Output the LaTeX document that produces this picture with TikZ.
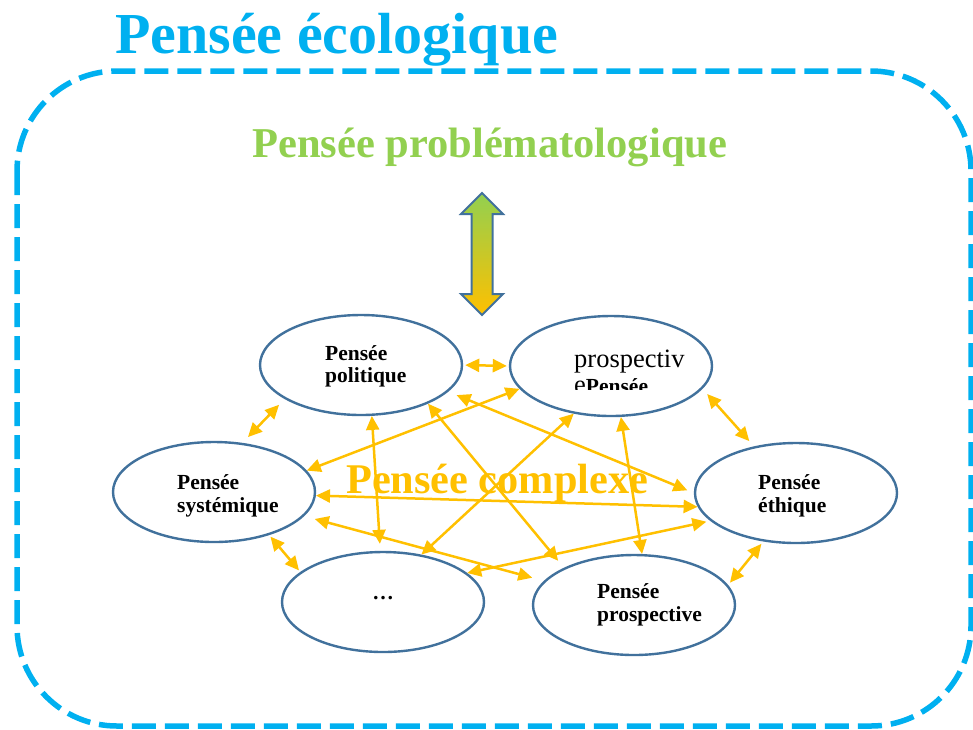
\documentclass[tikz,border=0pt]{standalone}
\usepackage{fontspec}
\setmainfont{Liberation Serif}
\usetikzlibrary{arrows.meta,shapes.geometric}
\definecolor{ecocyan}{RGB}{0,176,240}
\definecolor{ecogreen}{RGB}{146,208,80}
\definecolor{ecoorange}{RGB}{255,192,0}
\definecolor{ecoblue}{RGB}{65,113,156}
\tikzset{
  thought/.style={ellipse, draw=ecoblue, line width=2.4pt, fill=white,
    minimum width=202pt, minimum height=100pt, inner sep=0pt},
  lbl/.style={anchor=base west, inner sep=0pt, font=\fontsize{21.5}{22}\selectfont\bfseries},
  link/.style={draw=ecoorange, line width=2.5pt,
    {Triangle[length=14pt,width=13pt]}-{Triangle[length=14pt,width=13pt]}},
}
\begin{document}
\begin{tikzpicture}[x=1pt,y=-1pt]
\useasboundingbox (0,0) rectangle (973,729);
% outer dashed frame
\draw[ecocyan, line width=5.5pt, dash pattern=on 24pt off 9pt, rounded corners=100pt]
  (17,71) rectangle (971,726);
% titles
\node[anchor=base west, inner sep=0pt, text=ecocyan, font=\fontsize{58}{58}\selectfont\bfseries]
  (title) at (115,53) {Pensée écologique};
\node[anchor=base west, inner sep=0pt, text=ecogreen, font=\fontsize{42.5}{42.5}\selectfont\bfseries]
  (probl) at (252,157) {Pensée problématologique};
% block double arrow
\path[draw=ecoblue, line width=2pt, top color=ecogreen, bottom color=ecoorange, line join=miter]
  (482,193) -- (503,214) -- (492.5,214) -- (492.5,294) -- (503,294) -- (482,315)
  -- (461,294) -- (471.5,294) -- (471.5,214) -- (461,214) -- cycle;
% ellipses
\node[thought] (pol) at (361,365) {};
\node[thought] (pv) at (611,366) {};
\node[thought] (sys) at (214,492) {};
\node[thought] (eth) at (796,493) {};
\node[thought] (dots) at (383,602) {};
\node[thought] (pros) at (634,605) {};
% central title
\node[anchor=base west, inner sep=0pt, text=ecoorange, font=\fontsize{42.3}{42.3}\selectfont\bfseries]
  (cplx) at (346,493) {Pensée complexe};
% connectors
\draw[link, shorten <=2pt, shorten >=2pt] (pol.0) -- (pv.180);
\draw[link, shorten <=8pt, shorten >=8pt] (pol.204) -- (sys.60.6);
\draw[link, shorten <=7pt, shorten >=7pt] (pv.-14) -- (eth.132.7);
\draw[link, shorten <=2pt, shorten >=2pt] (sys.-38.8) -- (dots.160.1);
\draw[link, shorten <=3pt, shorten >=3pt] (eth.-124.7) -- (pros.12.7);
\draw[link] (sys.-2.3) -- (eth.188.6);
\draw[link] (pv.194) -- (sys.13.6);
\draw[link, shorten >=7pt] (pol.-78.3) -- (dots.93);
\draw[link, shorten >=9pt] (pol.-30) -- (pros.152.9);
\draw[link, shorten <=9pt, shorten >=7pt] (pol.-17.7) -- (eth.180);
\draw[link] (pv.232.8) -- (dots.51.3);
\draw[link] (pv.-79.6) -- (pros.81.3);
\draw[link, shorten <=11pt, shorten >=12pt] (sys.-15.8) -- (pros.165);
\draw[link, shorten <=4pt] (eth.198) -- (dots.19.9);
% ellipse texts
\node[lbl] (polA) at (325,360) {Pensée};
\node[lbl] (polB) at (325,382) {politique};
\node[anchor=base west, inner sep=0pt, font=\fontsize{26.5}{27}\selectfont]
  (pvA) at (574,367) {prospectiv};
\begin{scope}
  \clip (560,370) rectangle (700,389);
  \node[anchor=base west, inner sep=0pt] (pvB) at (574,393)
    {\fontsize{26.5}{27}\selectfont e\fontsize{21.5}{22}\selectfont\bfseries Pensée};
\end{scope}
\node[lbl] (sysA) at (177,489) {Pensée};
\node[lbl] (sysB) at (177,512) {systémique};
\node[lbl] (ethA) at (758,489) {Pensée};
\node[lbl] (ethB) at (758,512) {éthique};
\node[anchor=base, inner sep=0pt, font=\fontsize{21.5}{22}\selectfont\bfseries] (dotsA) at (383,599) {…};
\node[lbl] (prosA) at (597,598) {Pensée};
\node[lbl] (prosB) at (597,621) {prospective};
\end{tikzpicture}
\end{document}
